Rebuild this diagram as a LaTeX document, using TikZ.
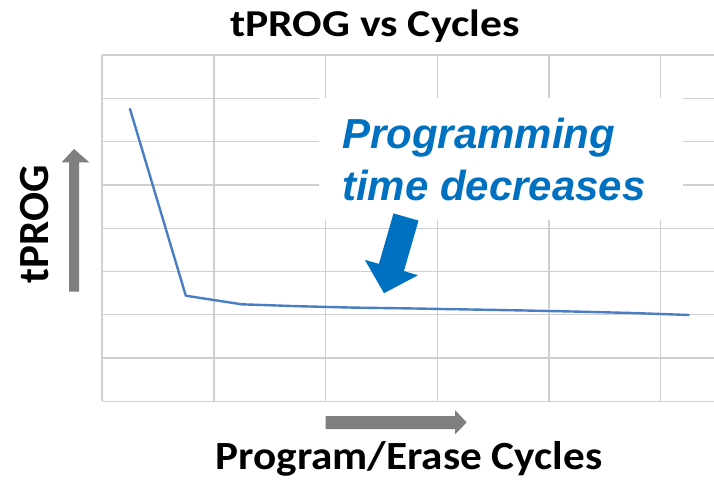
\documentclass[tikz,border=0pt]{standalone}
\usepackage{fontspec}
\setmainfont{Carlito}
\newfontfamily\notefont{Liberation Sans}
\definecolor{gridgray}{HTML}{D0D0D0}
\definecolor{seriesblue}{HTML}{4A7EC4}
\definecolor{noteblue}{HTML}{0070C0}
\definecolor{hintgray}{HTML}{7F7F7F}
\tikzset{
  gridline/.style={draw=gridgray, line width=1.3pt},
  series/.style={draw=seriesblue, line width=2.4pt, line join=round, line cap=round},
  boldlabel/.style={font=\bfseries, text=black, inner sep=0pt},
  hintarrow/.style={fill=hintgray, draw=none},
}
\begin{document}
\begin{tikzpicture}[x=1pt,y=-1pt]
\useasboundingbox[fill=white] (0,0) rectangle (714,485);

% chart grid
\foreach \gy in {55,98.3,141.6,184.9,228.2,271.5,314.8,358.1} {
  \draw[gridline] (102,\gy) -- (714,\gy);
}
\foreach \gx in {214,325.7,437.4,549.1,660.8} {
  \draw[gridline] (\gx,55) -- (\gx,401.4);
}
\draw[gridline] (102,55) -- (102,401.4);
\draw[gridline] (102,401.4) -- (714,401.4);

% measured programming time
\draw[series] (130,109) -- (185.8,295.7) -- (241.7,304.3) -- (297.6,306.2)
  -- (353.4,307.6) -- (409.3,308.4) -- (465.1,309.4) -- (521,310.4)
  -- (576.9,311.6) -- (632.7,313) -- (688.6,315);

% white panel behind the note
\fill[white] (319,97.5) rectangle (683,220);

% note and its arrow
\node[anchor=base west, inner sep=0pt, text=noteblue,
      font={\notefont\bfseries\itshape\fontsize{42}{52}\selectfont}]
  (noteA) at (342,148) {Programming};
\node[anchor=base west, inner sep=0pt, text=noteblue,
      font={\notefont\bfseries\itshape\fontsize{42}{52}\selectfont}]
  (noteB) at (342,200) {time decreases};
\fill[noteblue] (393.5,213.4) -- (418.5,220.6) -- (403.9,271.1) -- (418,275.2)
  -- (384,293.2) -- (364.8,259.8) -- (378.9,263.9) -- cycle;

% axis hint arrows
\fill[hintarrow] (69,291.7) -- (69,162.3) -- (61.7,162.3) -- (74,149)
  -- (89.3,162.3) -- (79,162.3) -- (79,291.7) -- cycle;
\fill[hintarrow] (325.7,416) -- (455,416) -- (455,410) -- (466.7,422.5)
  -- (455,434.3) -- (455,429) -- (325.7,429) -- cycle;

% titles
\node[boldlabel, anchor=base, xscale=1.15, font=\bfseries\fontsize{38}{44}\selectfont]
  (title) at (375,36) {tPROG vs Cycles};
\node[boldlabel, anchor=base, xscale=1.08, font=\bfseries\fontsize{40}{46}\selectfont]
  (xlabel) at (409,469) {Program/Erase Cycles};
\node[boldlabel, anchor=base, rotate=90, font=\bfseries\fontsize{43}{48}\selectfont]
  (ylabel) at (48,224) {tPROG};
\end{tikzpicture}
\end{document}
